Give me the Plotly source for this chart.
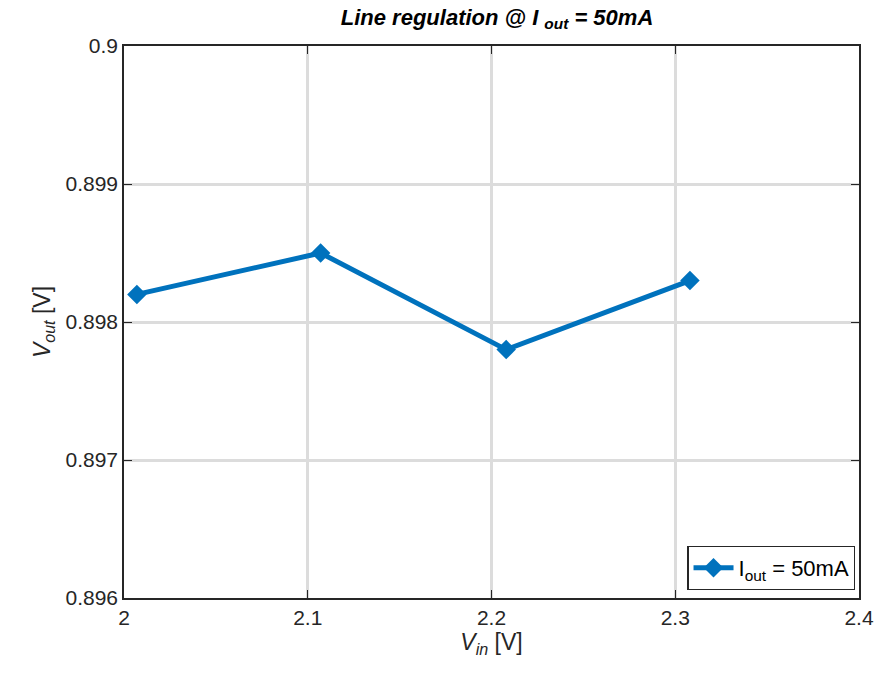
import plotly.graph_objects as go

# Measured line regulation at Iout = 50 mA
vin = [2.007, 2.107, 2.208, 2.308]
vout = [0.8982, 0.8985, 0.8978, 0.8983]
x_ticks = [2, 2.1, 2.2, 2.3, 2.4]
y_ticks = [0.896, 0.897, 0.898, 0.899, 0.9]
y_tick_text = ["0.896", "0.897", "0.898", "0.899", "0.9"]

BLUE = "#0072BD"
FONT = "Liberation Sans, Arial, Helvetica, sans-serif"

fig = go.Figure()
fig.add_trace(go.Scatter(
    x=vin, y=vout, mode="lines+markers",
    name="I<sub>out</sub> = 50mA",
    line=dict(color=BLUE, width=5),
    marker=dict(symbol="diamond", size=15, color=BLUE),
))

axis_common = dict(
    showline=True, linecolor="#262626", linewidth=1.5, mirror="ticks",
    ticks="inside", ticklen=8, tickwidth=1.2, tickcolor="#262626",
    showgrid=True, gridcolor="#dcdcdc", gridwidth=2.5,
    zeroline=False, tickfont=dict(family=FONT, size=21, color="#262626"),
)

fig.update_layout(
    width=886, height=673,
    margin=dict(l=124, r=22, t=46, b=75),
    paper_bgcolor="white", plot_bgcolor="white",
    font=dict(family=FONT, color="#262626"),
    title=dict(
        text="<b><i>Line regulation @ I <sub>out</sub> = 50mA</i></b>",
        x=0.561, xanchor="center", y=0.986, yanchor="top",
        font=dict(family=FONT, size=22, color="black"),
    ),
    xaxis=dict(
        range=[2, 2.4], tickvals=x_ticks, ticktext=[str(v) for v in x_ticks],
        title=dict(text="<i>V</i><sub><i>in</i></sub> [V]", standoff=2,
                   font=dict(family=FONT, size=23, color="#262626")),
        **axis_common,
    ),
    yaxis=dict(
        range=[0.896, 0.9], tickvals=y_ticks, ticktext=y_tick_text,
        title=dict(text="<i>V</i><sub><i>out</i></sub> [V]", standoff=8,
                   font=dict(family=FONT, size=23, color="#262626")),
        **axis_common,
    ),
    legend=dict(
        x=0.995, y=0.015, xanchor="right", yanchor="bottom",
        bgcolor="white", bordercolor="#262626", borderwidth=1.2,
        font=dict(family=FONT, size=22, color="black"),
        itemwidth=40,
    ),
    showlegend=True,
)

# Caption text below the figure, running off the bottom edge
fig.add_annotation(
    text="<b>0.9V</b>", xref="paper", yref="paper",
    x=-0.125, y=-0.163, xanchor="left", yanchor="top",
    showarrow=False, font=dict(family=FONT, size=28, color="black"),
)

fig.write_html("out.html")
